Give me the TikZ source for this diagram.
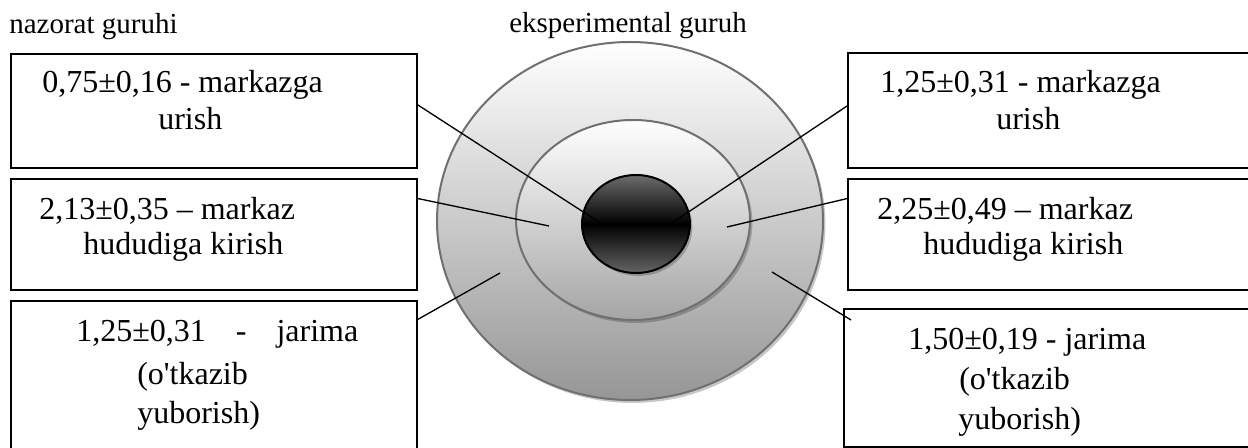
\documentclass[tikz,border=0pt]{standalone}
\usepackage{fontspec}
\setmainfont{Liberation Serif}[Ligatures=TeXOff]
\usetikzlibrary{shapes.geometric,shadows,calc}
\definecolor{ringgray}{RGB}{112,112,112}
\definecolor{botgray}{RGB}{150,150,150}
\definecolor{midbot}{RGB}{165,165,165}
\definecolor{darktop}{RGB}{108,108,108}
\definecolor{darkbot}{RGB}{100,100,100}
\pgfdeclareverticalshading{darkball}{100bp}{color(0bp)=(darkbot); color(25bp)=(darkbot); color(50bp)=(black); color(75bp)=(darktop); color(100bp)=(darktop)}
\tikzset{
  box/.style={draw=black, line width=1.1pt, rectangle, inner sep=0pt, fill=white},
  ring/.style={ellipse, draw=ringgray, line width=1.5pt, inner sep=0pt,
    drop shadow={shadow xshift=1.8pt, shadow yshift=-2.2pt, fill=black, opacity=0.22}},
  txt/.style={anchor=base west, inner sep=0pt, font=\fontsize{24}{28}\selectfont},
  head/.style={anchor=base west, inner sep=0pt, font=\fontsize{21.75}{26}\selectfont},
  conn/.style={draw=black, line width=1pt}
}
\begin{document}
\begin{tikzpicture}[x=0.75pt,y=-0.75pt]
\useasboundingbox[fill=white] (0,0) rectangle (1248,448);
% headers
\node[head] (hn) at (9,34) {nazorat guruhi};
\node[head] (he) at (509,33) {eksperimental guruh};
% target
\node[ring, minimum width=289.5pt, minimum height=268.5pt,
  top color=white, bottom color=botgray] (O) at (630,221) {};
\node[ring, minimum width=175.5pt, minimum height=150pt,
  top color=white, bottom color=midbot] (M) at (633,220) {};
\node[ring, draw=black, minimum width=81pt, minimum height=73.5pt,
  shading=darkball] (C) at (636,224) {};
% left boxes
\node[box, minimum width=304.5pt, minimum height=85.5pt] (L1) at (214,111) {};
\node[box, minimum width=304.5pt, minimum height=83.25pt] (L2) at (214,234.5) {};
\node[box, minimum width=304.5pt, minimum height=113.25pt] (L3) at (214,376.5) {};
% right boxes
\node[box, minimum width=303pt, minimum height=86.25pt] (R1) at (1050,110.5) {};
\node[box, minimum width=303pt, minimum height=83.25pt] (R2) at (1050,234.5) {};
\node[box, minimum width=306pt, minimum height=103.5pt] (R3) at (1048,378) {};
% texts left
\node[txt] (l1a) at (42,93) {0,75±0,16 - markazga};
\node[txt] (l1b) at (158,130) {urish};
\node[txt] (l2a) at (39,220) {2,13±0,35 – markaz};
\node[txt] (l2b) at (83,255) {hududiga kirish};
\node[txt] (l3a) at (76,342) {\makebox[211.5pt][s]{1,25±0,31 - jarima}};
\node[txt] (l3b) at (137,385) {(o'tkazib};
\node[txt] (l3c) at (137,423) {yuborish)};
% texts right
\node[txt] (r1a) at (880,93) {1,25±0,31 - markazga};
\node[txt] (r1b) at (996,130) {urish};
\node[txt] (r2a) at (877,220) {2,25±0,49 – markaz};
\node[txt] (r2b) at (923,255) {hududiga kirish};
\node[txt] (r3a) at (908,350) {1,50±0,19 - jarima};
\node[txt] (r3b) at (959,390) {(o'tkazib};
\node[txt] (r3c) at (958,430) {yuborish)};
% connector end points
\coordinate (eL1) at (605,226);
\coordinate (eL2) at (549,226);
\coordinate (eL3) at (500,273);
\coordinate (eR1) at (666,227);
\coordinate (eR2) at (727,227);
\coordinate (eR3) at (772,272);
\coordinate (sR3) at (851,320);
% connectors
\draw[conn] ($(L1.north east)!0.447!(L1.south east)$) -- (eL1);
\draw[conn] ($(L2.north east)!0.18!(L2.south east)$) -- (eL2);
\draw[conn] ($(L3.north east)!0.126!(L3.south east)$) -- (eL3);
\draw[conn] ($(R1.north west)!0.46!(R1.south west)$) -- (eR1);
\draw[conn] ($(R2.north west)!0.18!(R2.south west)$) -- (eR2);
\draw[conn] (sR3) -- (eR3);
\end{tikzpicture}
\end{document}
